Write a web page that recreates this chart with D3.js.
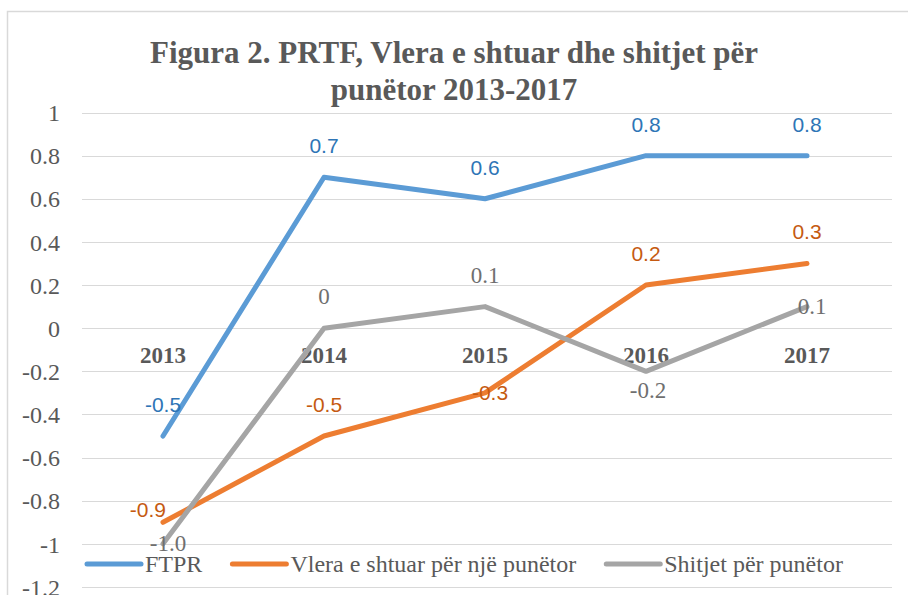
<!DOCTYPE html>
<html lang="en">
<head>
    <meta charset="UTF-8">
    <title>Figura 2</title>
    <style>
        body {
            margin: 0;
            padding: 0;
            background-color: white;
        }

        .grid line {
            stroke: #d9d9d9;
            stroke-width: 1px;
        }
    </style>
</head>
<body>
    <div id="container"></div>

    <script src="https://d3js.org/d3.v7.min.js"></script>
    <script>
        // Chart data
        const years = ["2013", "2014", "2015", "2016", "2017"];
        const ftpr = [-0.5, 0.7, 0.6, 0.8, 0.8];
        const vlera = [-0.9, -0.5, -0.3, 0.2, 0.3];
        const shitjet = [-1.0, 0, 0.1, -0.2, 0.1];
        const yTicks = [1, 0.8, 0.6, 0.4, 0.2, 0, -0.2, -0.4, -0.6, -0.8, -1, -1.2];

        const ftprLabels = ["-0.5", "0.7", "0.6", "0.8", "0.8"];
        const vleraLabels = ["-0.9", "-0.5", "-0.3", "0.2", "0.3"];
        const shitjetLabels = ["-1.0", "0", "0.1", "-0.2", "0.1"];

        // where each data label sits relative to its point
        const ftprPlace = ["above", "above", "above", "above", "above"];
        const vleraPlace = ["left", "above", "center", "above", "above"];
        const shitjetPlace = ["center", "above", "above", "below", "center"];

        const SERIF = "'Liberation Serif', 'Times New Roman', serif";
        const SANS = "'Liberation Sans', Arial, sans-serif";
        const TEXT = "#595959";

        const series = [
            {name: "FTPR", values: ftpr, labels: ftprLabels, place: ftprPlace,
             color: "#5b9bd5", labelColor: "#2e75b6", labelFont: SANS},
            {name: "Vlera e shtuar për një punëtor", values: vlera, labels: vleraLabels, place: vleraPlace,
             color: "#ed7d31", labelColor: "#c55a11", labelFont: SANS},
            {name: "Shitjet për punëtor", values: shitjet, labels: shitjetLabels, place: shitjetPlace,
             color: "#a5a5a5", labelColor: "#6f6f6f", labelFont: SERIF}
        ];

        const width = 908;
        const height = 595;

        const svg = d3.select("#container")
            .append("svg")
            .attr("width", width)
            .attr("height", height)
            .style("display", "block");

        // chart border (cut off on the right and bottom like the source)
        svg.append("rect")
            .attr("x", 7.5)
            .attr("y", 11.5)
            .attr("width", 940)
            .attr("height", 640)
            .attr("fill", "white")
            .attr("stroke", "#d9d9d9")
            .attr("stroke-width", 1.5);

        // Title
        const title = svg.append("text")
            .attr("text-anchor", "middle")
            .style("font-family", SERIF)
            .style("fill", TEXT)
            .style("font-size", "31px")
            .style("font-weight", "bold");
        title.append("tspan").attr("x", 454).attr("y", 63).text("Figura 2. PRTF, Vlera e shtuar dhe shitjet për");
        title.append("tspan").attr("x", 454).attr("y", 100).text("punëtor 2013-2017");

        // Scales
        const x = d3.scaleBand()
            .domain(years)
            .range([82.5, 887.5]);

        const y = d3.scaleLinear()
            .domain([-1.2, 1])
            .range([587, 112.5]);

        // Gridlines
        svg.append("g")
            .attr("class", "grid")
            .selectAll("line")
            .data(yTicks)
            .enter()
            .append("line")
            .attr("x1", 82)
            .attr("x2", 892)
            .attr("y1", d => Math.round(y(d)) + 0.5)
            .attr("y2", d => Math.round(y(d)) + 0.5);

        // Y axis labels
        const yAxis = svg.append("g")
            .attr("transform", "translate(82,0)")
            .call(d3.axisLeft(y).tickValues(yTicks).tickSize(0).tickPadding(22).tickFormat(d => String(d)));
        yAxis.select(".domain").remove();
        yAxis.attr("font-family", null).attr("font-size", null);
        yAxis.selectAll("text")
            .attr("dy", "0.34em")
            .style("font-family", SERIF)
            .style("fill", TEXT)
            .style("font-size", "24px");

        // Category labels sit just below the zero line
        svg.append("g")
            .selectAll("text")
            .data(years)
            .enter()
            .append("text")
            .attr("text-anchor", "middle")
            .attr("x", d => x(d) + x.bandwidth() / 2)
            .attr("y", y(0) + 35)
            .style("font-family", SERIF)
            .style("fill", TEXT)
            .style("font-size", "23px")
            .style("font-weight", "bold")
            .text(d => d);

        // Lines
        const line = d3.line()
            .x((d, i) => x(years[i]) + x.bandwidth() / 2)
            .y(d => y(d));

        svg.append("g")
            .selectAll("path")
            .data(series)
            .enter()
            .append("path")
            .attr("d", d => line(d.values))
            .attr("fill", "none")
            .attr("stroke", d => d.color)
            .attr("stroke-width", 5)
            .attr("stroke-linecap", "round")
            .attr("stroke-linejoin", "round");

        // Data labels
        function labelPos(place, px, py) {
            if (place === "above") return {x: px, y: py - 24, anchor: "middle"};
            if (place === "below") return {x: px + 2, y: py + 27, anchor: "middle"};
            if (place === "left") return {x: px + 3, y: py - 5, anchor: "end"};
            return {x: px + 5, y: py + 7, anchor: "middle"};
        }

        series.forEach(s => {
            s.values.forEach((v, i) => {
                const px = x(years[i]) + x.bandwidth() / 2;
                const p = labelPos(s.place[i], px, y(v));
                svg.append("text")
                    .attr("x", p.x)
                    .attr("y", p.y)
                    .attr("text-anchor", p.anchor)
                    .style("font-family", s.labelFont)
                    .style("font-size", s.labelFont === SERIF ? "23px" : "21px")
                    .style("fill", s.labelColor)
                    .text(s.labels[i]);
            });
        });

        // Legend
        const legend = svg.append("g");
        let lx = 87;
        const ly = 564;
        series.forEach(s => {
            legend.append("line")
                .attr("x1", lx)
                .attr("x2", lx + 54)
                .attr("y1", ly)
                .attr("y2", ly)
                .attr("stroke", s.color)
                .attr("stroke-width", 5)
                .attr("stroke-linecap", "round");
            const t = legend.append("text")
                .attr("x", lx + 58)
                .attr("y", ly + 8)
                .style("font-family", SERIF)
                .style("fill", TEXT)
                .style("font-size", "24px")
                .text(s.name);
            lx = lx + 58 + t.node().getComputedTextLength() + 30;
        });
    </script>
</body>
</html>
